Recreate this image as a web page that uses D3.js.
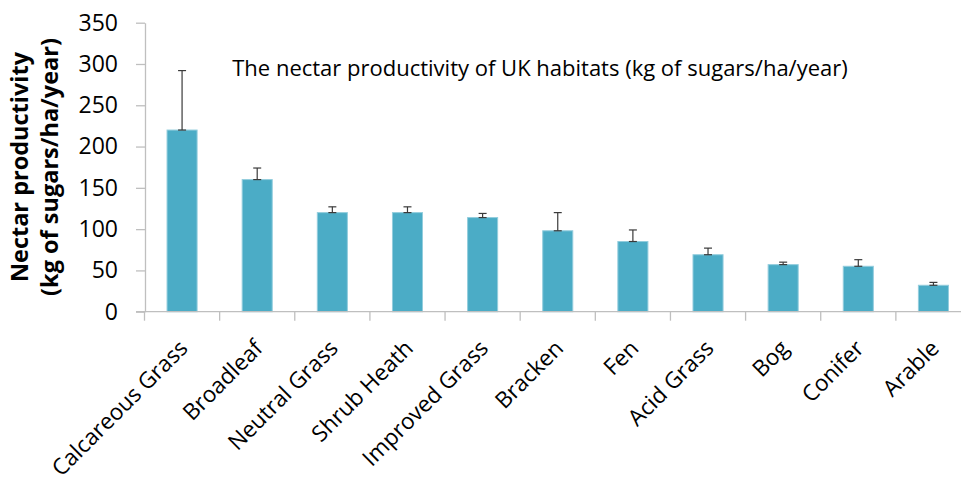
<!DOCTYPE html>
<html>
<head>
<meta charset="utf-8">
<script src="https://cdn.jsdelivr.net/npm/d3@7"></script>
<style>
  html, body { margin: 0; padding: 0; background: #fff; }
  svg { display: block; }
  text { font-family: "Open Sans", sans-serif; fill: #000; }
</style>
</head>
<body>
<svg id="chart" width="961" height="483"></svg>
<script>
const categories = ["Calcareous Grass", "Broadleaf", "Neutral Grass", "Shrub Heath", "Improved Grass", "Bracken", "Fen", "Acid Grass", "Bog", "Conifer", "Arable"];
const values = [220, 160, 120, 120, 114, 98, 85, 69, 57, 55, 32];
const errors = [72, 14, 7, 7, 5, 22, 14, 8, 3, 8, 3.5];
const yTicks = [0, 50, 100, 150, 200, 250, 300, 350];
const titleText = "The nectar productivity of UK habitats (kg of sugars/ha/year)";
const yTitle = ["Nectar productivity", "(kg of sugars/ha/year)"];

const svg = d3.select("#chart");
const x = d3.scaleBand().domain(categories).range([144.5, 971]).paddingInner(0.6).paddingOuter(0.3);
const y = d3.scaleLinear().domain([0, 350]).range([311.7, 22.7]);

// bars
svg.append("g").selectAll("rect").data(categories).join("rect")
  .attr("x", d => x(d))
  .attr("y", (d, i) => y(values[i]))
  .attr("width", x.bandwidth())
  .attr("height", (d, i) => y(0) - y(values[i]))
  .attr("fill", "#4BACC6")
  .attr("stroke", "#93cddd")
  .attr("stroke-width", 1);

// error bars
const eb = svg.append("g").attr("stroke", "#3a3a3a").attr("stroke-width", 1.2);
categories.forEach((c, i) => {
  const cx = x(c) + x.bandwidth() / 2;
  eb.append("line").attr("x1", cx).attr("x2", cx).attr("y1", y(values[i])).attr("y2", y(values[i] + errors[i]));
  eb.append("line").attr("x1", cx - 4).attr("x2", cx + 4).attr("y1", y(values[i] + errors[i])).attr("y2", y(values[i] + errors[i]));
  eb.append("line").attr("x1", cx - 4).attr("x2", cx + 4).attr("y1", y(values[i])).attr("y2", y(values[i]));
});

// y axis
const yAxis = d3.axisLeft(y).tickValues(yTicks).tickSize(9).tickPadding(18).tickSizeOuter(0);
const gy = svg.append("g").attr("transform", "translate(145,0)").call(yAxis);
gy.select(".domain").attr("stroke", "#bfbfbf").attr("stroke-width", 1.3);
gy.selectAll(".tick line").attr("stroke", "#bfbfbf").attr("stroke-width", 1.3);
gy.selectAll(".tick text").attr("font-size", 23).attr("font-family", "Open Sans").attr("fill", "#000");

// x axis
const xAxisG = svg.append("g");
xAxisG.append("line").attr("x1", 136).attr("x2", 971).attr("y1", y(0)).attr("y2", y(0)).attr("stroke", "#bfbfbf").attr("stroke-width", 1.3);
const boundaries = d3.range(categories.length + 1).map(i => 144.5 + i * (971 - 144.5) / categories.length);
xAxisG.selectAll("line.bt").data(boundaries).join("line").attr("class", "bt")
  .attr("x1", d => d).attr("x2", d => d).attr("y1", y(0)).attr("y2", y(0) + 9)
  .attr("stroke", "#bfbfbf").attr("stroke-width", 1.3);
xAxisG.selectAll("text").data(categories).join("text")
  .attr("transform", d => `translate(${x(d) + x.bandwidth() / 2 + 7},${y(0) + 38}) rotate(-45)`)
  .attr("text-anchor", "end")
  .attr("font-size", 22.5)
  .text(d => d);

// title
svg.append("text").attr("x", 540).attr("y", 76).attr("text-anchor", "middle").attr("font-size", 22).text(titleText);

// y title
yTitle.forEach((t, i) => {
  svg.append("text")
    .attr("transform", `translate(${28 + i * 30},167) rotate(-90)`)
    .attr("text-anchor", "middle")
    .attr("font-size", 23.5)
    .attr("font-weight", "bold")
    .text(t);
});
</script>
</body>
</html>
